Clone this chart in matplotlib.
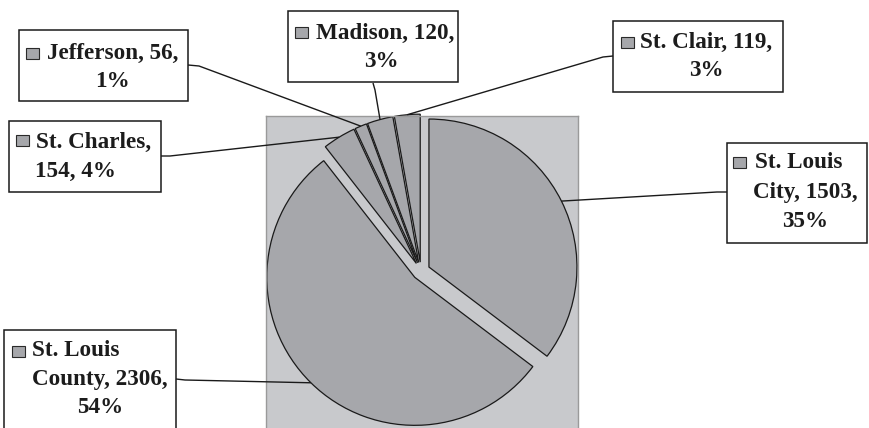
import textwrap
import numpy as np
import matplotlib
matplotlib.use("Agg")
import matplotlib.pyplot as plt
from matplotlib.patches import Rectangle

########################## data ##########################
counties = ["St. Louis City", "St. Louis County", "St. Charles", "Jefferson", "Madison", "St. Clair"]
counts = np.array([1503, 2306, 154, 56, 120, 119])
pct = np.round(100. * counts / counts.sum()).astype(int)

########################## label layout (pixels, y down) ##########################
wrap_w = [11, 13, 12, 14, 13, 15]
box_xy = [(727, 143, 867, 243), (4, 330, 176, 432), (9, 121, 161, 192),
          (19, 30, 188, 101), (288, 11, 458, 82), (613, 21, 783, 92)]
key_xy = [(733, 157), (12, 346), (16, 135), (26, 48), (295, 27), (621, 37)]
line1_x = [755, 32, 36, 47, 316, 640]
center_x = [805, 100, 75.5, 112, 381, 706]
base_y = [168, 356, 148, 59, 39, 48]
line_h = [29.5, 28.5, 28.5, 28, 28, 28]
elbow = [((727, 192), (717, 192)), ((176, 379), (185, 380)), ((161, 156), (170, 156)),
         ((188, 65), (199, 66)), ((373, 83), (375, 90)), ((613, 56), (603, 57))]

W, H = 869, 428
wedge_col = "#a6a7ab"
bg_col = "#c8c9cc"
txt_col = "#1c1c1c"
expl = 0.06
fs = 16.7

fig = plt.figure(figsize=(W / 100., H / 100.), dpi=100)
fig.patch.set_facecolor("white")

# pie axes: centre at (421, 271) px, radius 148 px
cx, cy, R = 421., 271., 148.
left, right, top, bot = 266., 578., 116., 440.
ax = fig.add_axes([left / W, (H - bot) / H, (right - left) / W, (bot - top) / H])
wedges, _ = ax.pie(counts, startangle=90, counterclock=False, explode=[expl] * len(counts),
                   colors=[wedge_col] * len(counts),
                   wedgeprops=dict(edgecolor="#1a1a1a", linewidth=0.9))
ax.set_aspect("auto")
ax.set_xlim((left - cx) / R, (right - cx) / R)
ax.set_ylim((cy - bot) / R, (cy - top) / R)
ax.set_frame_on(True)
ax.set_facecolor(bg_col)
for s in ax.spines.values():
    s.set_color("#9a9a9a")
    s.set_linewidth(1.0)
ax.set_xticks([])
ax.set_yticks([])

# overlay in pixel coords
ov = fig.add_axes([0, 0, 1, 1], zorder=5)
ov.set_xlim(0, W)
ov.set_ylim(H, 0)
ov.axis("off")
ov.patch.set_alpha(0)

for i, w in enumerate(wedges):
    th = np.deg2rad(0.5 * (w.theta1 + w.theta2))
    pt = ((1 + expl) * np.cos(th), (1 + expl) * np.sin(th))
    px, py = ov.transData.inverted().transform(ax.transData.transform(pt))
    (x0, y0), (x1, y1) = elbow[i]
    ov.plot([x0, x1, px], [y0, y1, py], color="#1a1a1a", lw=1.0, solid_capstyle="butt")

    bx0, by0, bx1, by1 = box_xy[i]
    ov.add_patch(Rectangle((bx0, by0), bx1 - bx0, by1 - by0, facecolor="white",
                           edgecolor="#1a1a1a", lw=1.1))
    kx, ky = key_xy[i]
    ov.add_patch(Rectangle((kx, ky), 12.5, 11, facecolor=wedge_col, edgecolor="#2a2a2a", lw=0.8))

    lines = textwrap.wrap(f"{counties[i]}, {counts[i]}, {pct[i]}%", wrap_w[i])
    for j, ln in enumerate(lines):
        y = base_y[i] + j * line_h[i]
        if j == 0:
            ov.text(line1_x[i], y, ln, ha="left", va="baseline", fontsize=fs,
                    fontweight="bold", family="Liberation Serif", color=txt_col)
        else:
            ov.text(center_x[i], y, ln, ha="center", va="baseline", fontsize=fs,
                    fontweight="bold", family="Liberation Serif", color=txt_col)

fig.savefig("out.png", dpi=100)
